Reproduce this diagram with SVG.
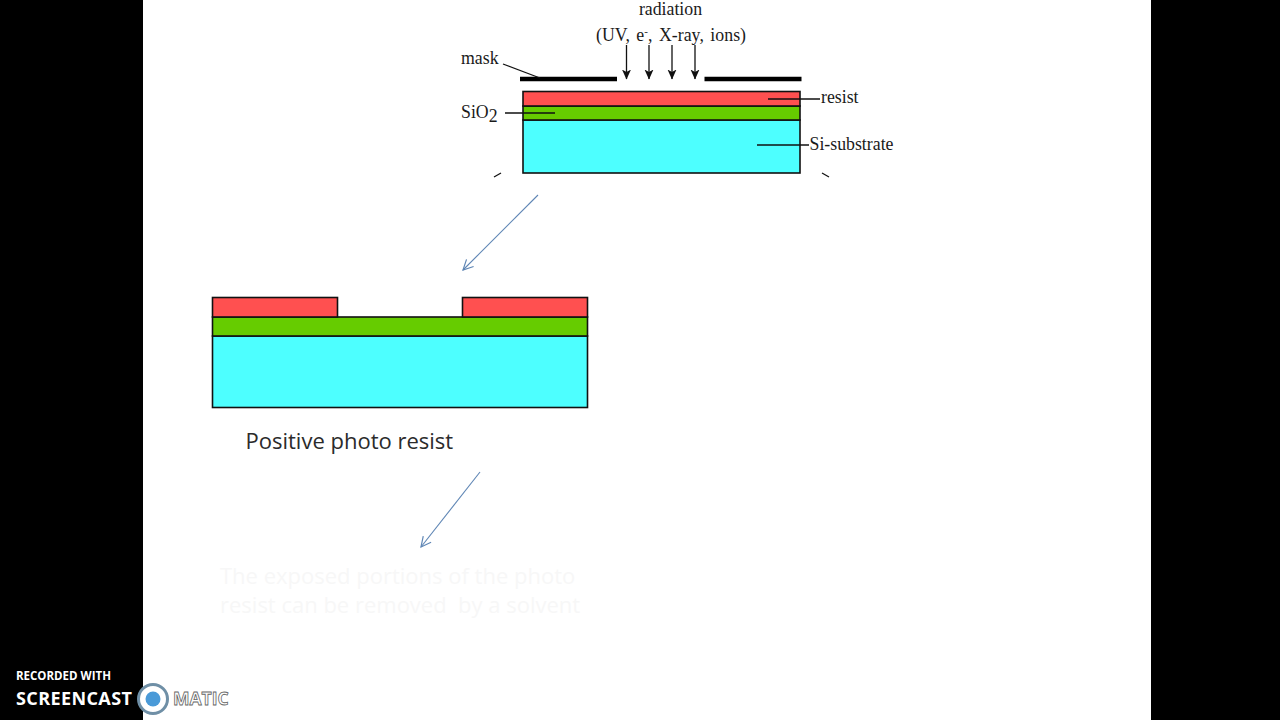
<svg xmlns="http://www.w3.org/2000/svg" width="1280" height="720" viewBox="0 0 1280 720">
<style>
.s{font-family:"Liberation Serif","Times New Roman",serif;font-size:17.8px;fill:#1a1a1a}
.c{font-family:"Open Sans","Noto Sans",sans-serif;}
.l{stroke:#111;stroke-width:1.3;fill:none}
.b{stroke:#111;stroke-width:1.6}
.r{fill:#ff5050}.g{fill:#66cc00}.y{fill:#4dffff}
.m{stroke:#000;stroke-width:4.5;fill:none}
.ba{stroke:#5f86b5;stroke-width:1.1;fill:none}
</style>
<defs>
<marker id="ah" viewBox="0 0 10 10" refX="9.5" refY="5" markerWidth="10" markerHeight="10" markerUnits="userSpaceOnUse" orient="auto"><path d="M0 0.5L10 5L0 9.5L2.5 5Z" fill="#111"/></marker>
<marker id="oa" viewBox="0 0 12 12" refX="11" refY="6" markerWidth="12" markerHeight="12" markerUnits="userSpaceOnUse" orient="auto"><path d="M1 1L11 6L1 11" fill="none" stroke="#5f86b5" stroke-width="1.2"/></marker>
</defs>
<rect width="1280" height="720" fill="#fff"/>
<rect x="0" y="0" width="143" height="720" fill="#000"/>
<rect x="1151" y="0" width="129" height="720" fill="#000"/>

<g id="top-stack">
<rect class="y b" x="523" y="120" width="277" height="53"/>
<rect class="g b" x="523" y="106" width="277" height="14"/>
<rect class="r b" x="523" y="91.500" width="277" height="14.500"/>
</g>
<g id="mask">
<line class="m" x1="520" y1="79" x2="617" y2="79"/>
<line class="m" x1="704.500" y1="79" x2="801.500" y2="79"/>
</g>
<g id="labels">
<text class="s" x="670.500" y="15" text-anchor="middle">radiation</text>
<text class="s" x="596" y="41" word-spacing="2" textLength="150" lengthAdjust="spacing">(UV, e<tspan font-size="11" dy="-6">-</tspan><tspan dy="6">, X-ray, ions)</tspan></text>
<text class="s" x="461" y="64">mask</text>
<text class="s" x="461" y="118">SiO<tspan dy="4">2</tspan></text>
<text class="s" x="821" y="102.500">resist</text>
<text class="s" x="809.500" y="149.500">Si-substrate</text>
</g>
<g id="connectors">
<line class="l" x1="503" y1="64" x2="540" y2="78"/>
<line class="l" x1="505" y1="113" x2="555" y2="113"/>
<line class="l" x1="768" y1="99" x2="820" y2="99"/>
<line class="l" x1="757" y1="145" x2="809" y2="145"/>
<line class="l" x1="626.500" y1="45" x2="626.500" y2="79" marker-end="url(#ah)"/>
<line class="l" x1="649" y1="45" x2="649" y2="79" marker-end="url(#ah)"/>
<line class="l" x1="672" y1="45" x2="672" y2="79" marker-end="url(#ah)"/>
<line class="l" x1="695" y1="45" x2="695" y2="79" marker-end="url(#ah)"/>
<line class="l" x1="494" y1="177" x2="501" y2="173"/>
<line class="l" x1="829" y1="177" x2="822" y2="173"/>
<line class="ba" x1="538" y1="195" x2="463" y2="270" marker-end="url(#oa)"/>
<line class="ba" x1="480" y1="472" x2="421" y2="547" marker-end="url(#oa)"/>
</g>
<g id="bottom-stack">
<rect class="y b" x="212.500" y="336" width="375" height="71.500"/>
<rect class="g b" x="212.500" y="317" width="375" height="19"/>
<rect class="r b" x="212.500" y="297.500" width="125" height="19.500"/>
<rect class="r b" x="462.500" y="297.500" width="125" height="19.500"/>
</g>
<text class="c" x="245.500" y="449" font-size="22" fill="#2b2b2b">Positive photo resist</text>
<g class="c" font-size="22" fill="#f7f7f7">
<text x="220" y="584">The exposed portions of the photo</text>
<text x="220" y="613" xml:space="preserve">resist can be removed  by a solvent</text>
</g>
<g id="watermark">
<text x="16" y="680" font-family="'Open Sans',Roboto,sans-serif" font-size="11.500" font-weight="700" fill="#fff">RECORDED WITH</text>
<text x="16" y="705" font-family="'Open Sans',Roboto,sans-serif" font-size="18" font-weight="700" letter-spacing="0.4" fill="#fff">SCREENCAST</text>
<circle cx="153" cy="699" r="14.500" fill="#fff" stroke="#6f8fa6" stroke-width="3"/>
<circle cx="153" cy="699" r="7.500" fill="#4a9ad8"/>
<text x="173" y="705" font-family="'Open Sans',Roboto,sans-serif" font-size="17.500" font-weight="700" fill="#fff" stroke="#666" stroke-width="0.8">MATIC</text>
</g>
</svg>
